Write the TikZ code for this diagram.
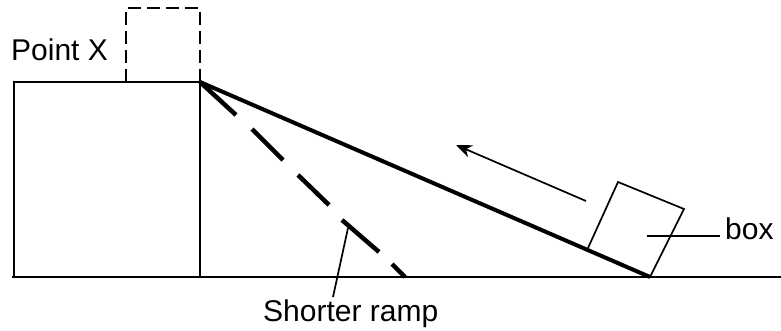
\documentclass[tikz,border=0pt]{standalone}
\usepackage{fontspec}
\setmainfont{Liberation Sans}
\usetikzlibrary{arrows.meta}
\tikzset{
  thin line/.style={line width=1.7pt,black},
  dash line/.style={line width=2pt,black,dash pattern=on 13pt off 6pt},
  ramp line/.style={line width=4pt,black},
  short ramp/.style={line width=4.5pt,black},
  lbl/.style={inner sep=0pt,font=\fontsize{30}{30}\selectfont},
}
\begin{document}
\begin{tikzpicture}[x=1pt,y=-1pt]
\useasboundingbox (0,0) rectangle (781,331);
\coordinate (gl) at (12,277);
\coordinate (gr) at (781,277);
\coordinate (pbl) at (14,277);
\coordinate (ptl) at (14,82);
\coordinate (ptr) at (200,82);
\coordinate (pbr) at (200,277);
\coordinate (dl) at (126,82);
\coordinate (dtl) at (126,8);
\coordinate (dtr) at (200,8);
\coordinate (foot) at (650,277);
\coordinate (b1) at (588,248);
\coordinate (b2) at (618,182);
\coordinate (b3) at (684,209);
\coordinate (arS) at (586,201);
\coordinate (arE) at (456,145);
\coordinate (boxin) at (647,236);
\coordinate (boxout) at (720,236);
\coordinate (shortl) at (348,228);
\coordinate (shortb) at (333,297);
\draw[thin line] (gl) -- (gr);
\draw[thin line] (pbl) -- (ptl) -- (ptr) -- (pbr);
\draw[dash line] (dl) -- (dtl) -- (dtr) -- (ptr);
\draw[ramp line] (ptr) -- (foot);
\draw[thin line] (b1) -- (b2) -- (b3) -- (foot);
\draw[thin line,-{Stealth[length=16pt,width=13pt]}] (arS) -- (arE);
\draw[short ramp] (ptr) -- (236,115);
\draw[short ramp] (252,129) -- (283,160);
\draw[short ramp] (298,175) -- (329,205);
\draw[short ramp] (342,220) -- (379,252);
\draw[short ramp] (392,264) -- (405,277);
\node[lbl,anchor=base west] (px) at (11,61) {Point X};
\node[lbl,anchor=base west] (bx) at (725,239) {box};
\node[lbl,anchor=base west] (sr) at (263,321) {Shorter ramp};
\draw[thin line] (boxin) -- (boxout);
\draw[thin line] (shortb) -- (shortl);
\end{tikzpicture}
\end{document}
